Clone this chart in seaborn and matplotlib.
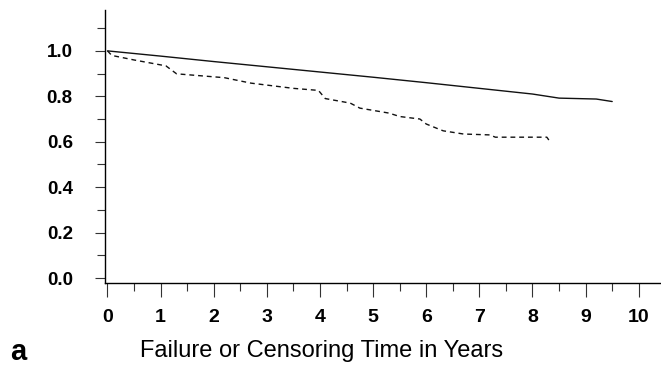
import pandas as pd
import matplotlib.pyplot as plt
import seaborn as sns
from matplotlib.ticker import MultipleLocator

# survival curves
t_solid = [0, 1, 2, 3, 4, 5, 6, 7, 8, 8.5, 9.2, 9.5]
s_solid = [1.0, 0.977, 0.953, 0.930, 0.907, 0.884, 0.860, 0.835, 0.810, 0.792, 0.788, 0.777]

t_dash = [0, 0.08, 0.5, 1.1, 1.3, 2.2, 2.7, 3.5, 3.97, 4.1, 4.57, 4.75, 5.3, 5.5,
          5.88, 6.0, 6.2, 6.32, 6.7, 7.2, 7.3, 8.27, 8.33]
s_dash = [1.0, 0.98, 0.96, 0.934, 0.899, 0.882, 0.858, 0.835, 0.826, 0.79, 0.77,
          0.748, 0.726, 0.711, 0.70, 0.678, 0.659, 0.648, 0.634, 0.63, 0.62, 0.62, 0.60]

df = pd.concat([
    pd.DataFrame({'t': t_solid, 's': s_solid, 'grupo': 'A'}),
    pd.DataFrame({'t': t_dash, 's': s_dash, 'grupo': 'B'}),
])

sns.set_style("ticks")
plt.rcParams['font.family'] = ['Liberation Sans', 'DejaVu Sans']
plt.rcParams['text.color'] = 'black'
plt.rcParams['xtick.labelcolor'] = 'black'
plt.rcParams['ytick.labelcolor'] = 'black'
plt.rcParams['axes.labelcolor'] = 'black'

fig = plt.figure(figsize=(6.61, 3.68), dpi=100)
ax = fig.add_axes([105 / 661, 1 - 283 / 368, 555 / 661, 273 / 368])

sns.lineplot(data=df, x='t', y='s', style='grupo', dashes={'A': '', 'B': (3.5, 2.8)},
             color='#111111', linewidth=1.0, legend=False, sort=False, estimator=None, ax=ax)

ax.set_xlim(-0.047, 10.4)
ax.set_ylim(-0.022, 1.18)
sns.despine(ax=ax)
for sp in ['left', 'bottom']:
    ax.spines[sp].set_color('black')
    ax.spines[sp].set_linewidth(1.0)

ax.xaxis.set_major_locator(MultipleLocator(1))
ax.xaxis.set_minor_locator(MultipleLocator(0.5))
ax.yaxis.set_major_locator(MultipleLocator(0.2))
ax.yaxis.set_minor_locator(MultipleLocator(0.1))
ax.set_yticklabels([f'{v:.1f}' for v in ax.get_yticks()])

ax.tick_params(axis='x', which='major', length=10, width=0.8, pad=9, labelsize=14, color='#333333')
ax.tick_params(axis='x', which='minor', length=6, width=0.8, color='#333333')
ax.tick_params(axis='y', which='major', length=7.2, width=0.8, pad=16, labelsize=13.5, color='#333333')
ax.tick_params(axis='y', which='minor', length=5.5, width=0.8, color='#333333')
for lab in ax.get_xticklabels() + ax.get_yticklabels():
    lab.set_fontweight('bold')

ax.set_ylabel('')
ax.set_xlabel('Failure or Censoring Time in Years', fontsize=17)
ax.xaxis.set_label_coords((322 - 105) / 555, (283 - 340) / 273)
ax.xaxis.label.set_va('top')

fig.text(10 / 661, 1 - 360 / 368, 'a', fontsize=21, fontweight='bold', ha='left', va='baseline')

fig.savefig('out.png', dpi=100)
